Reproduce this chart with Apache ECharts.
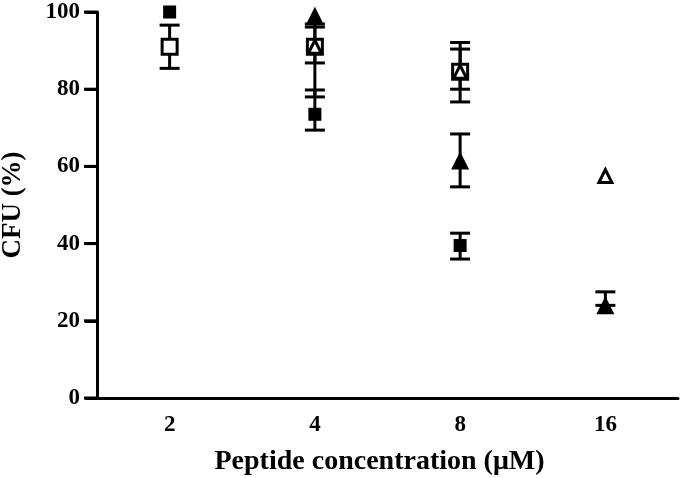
<!DOCTYPE html>
<html>
<head>
<meta charset="utf-8">
<script src="https://cdn.jsdelivr.net/npm/echarts@6/dist/echarts.min.js"></script>
<style>
  html, body { margin: 0; padding: 0; background: #fff; }
  #chart { width: 680px; height: 478px; }
</style>
</head>
<body>
<div id="chart"></div>
<script>
// concentrations (uM)
const categories = ['2', '4', '8', '16']
const yTicks = [0, 20, 40, 60, 80, 100]

// CFU % per peptide, null = not shown
const filledSquare = [100, 73.5, 39.5, null]
const openSquare = [91, 91, 84.5, null]
const filledTriangle = [null, 99, 61.5, 24]
const openTriangle = [null, 91, 84.5, 57.5]

// error bars [category index, low, high]
const filledSquareErr = [[1, 69.4, 79.8], [2, 36, 42.7]]
const openSquareErr = [[0, 85.4, 96.6], [1, 86.8, 96.9], [2, 76.7, 92.1]]
const filledTriangleErr = [[2, 54.7, 68.4], [3, 24, 27.5]]
const openTriangleErr = [[1, 78, 96.1], [2, 80, 90.4]]

const font = '"Liberation Serif", "Times New Roman", serif'

function errorSeries(data) {
  return {
    type: 'custom',
    data: data,
    z: 1,
    clip: false,
    renderItem: function (params, api) {
      const x = api.value(0)
      const lo = api.coord([x, api.value(1)])
      const hi = api.coord([x, api.value(2)])
      const w = 10
      const st = { stroke: '#000', lineWidth: 3 }
      return {
        type: 'group',
        children: [
          { type: 'line', shape: { x1: lo[0], y1: lo[1], x2: hi[0], y2: hi[1] }, style: st },
          { type: 'line', shape: { x1: lo[0] - w, y1: lo[1], x2: lo[0] + w, y2: lo[1] }, style: st },
          { type: 'line', shape: { x1: hi[0] - w, y1: hi[1], x2: hi[0] + w, y2: hi[1] }, style: st }
        ]
      }
    }
  }
}

// y-axis tick marks, left of the axis line
const yTickSeries = {
  type: 'custom',
  data: yTicks.map(v => [0, v]),
  z: 5,
  silent: true,
  clip: false,
  renderItem: function (params, api) {
    const p = api.coord([0, api.value(1)])
    const x0 = p[0] - api.size([1, 0])[0] / 2
    return {
      type: 'line',
      shape: { x1: x0 - 13, y1: p[1], x2: x0, y2: p[1] },
      style: { stroke: '#000', lineWidth: 3 }
    }
  }
}

function markers(values, symbol, size, filled) {
  return {
    type: 'scatter',
    data: values.map((v, i) => [i, v]),
    symbol: symbol,
    symbolSize: size,
    z: 3,
    itemStyle: filled
      ? { color: '#000', opacity: 1 }
      : { color: '#fff', borderColor: '#000', borderWidth: 3, opacity: 1 }
  }
}

const chart = echarts.init(document.getElementById('chart'))
chart.setOption({
  animation: false,
  backgroundColor: '#fff',
  grid: {
    left: 97, right: 2, top: 12, bottom: 80,
    outerBounds: { left: -100, top: -100, right: -100, bottom: -100 }
  },
  xAxis: {
    type: 'category',
    data: categories,
    boundaryGap: true,
    name: 'Peptide concentration (μM)',
    nameLocation: 'middle',
    nameGap: 50,
    nameTextStyle: { fontFamily: font, fontWeight: 'bold', fontSize: 28, color: '#000', padding: [0, 16, 0, 0] },
    axisLine: { lineStyle: { color: '#000', width: 3 } },
    axisTick: { alignWithLabel: true, length: 10, lineStyle: { color: '#000', width: 3 } },
    axisLabel: { margin: 16, fontFamily: font, fontWeight: 'bold', fontSize: 23, color: '#000' },
    splitLine: { show: false }
  },
  yAxis: {
    type: 'value',
    min: yTicks[0],
    max: yTicks[yTicks.length - 1],
    interval: 20,
    name: 'CFU (%)',
    nameLocation: 'middle',
    nameGap: 70,
    nameTextStyle: { fontFamily: font, fontWeight: 'bold', fontSize: 27, color: '#000' },
    axisLine: { show: true, lineStyle: { color: '#000', width: 3 } },
    axisTick: { show: true, length: 12, lineStyle: { color: '#000', width: 3 } },
    axisLabel: { margin: 5, padding: [0, 12, 0, 0], fontFamily: font, fontWeight: 'bold', fontSize: 23, color: '#000' },
    splitLine: { show: false }
  },
  series: [
    yTickSeries,
    errorSeries(filledSquareErr),
    errorSeries(openSquareErr),
    errorSeries(filledTriangleErr),
    errorSeries(openTriangleErr),
    markers(filledSquare, 'rect', 13, true),
    markers(openSquare, 'rect', 15, false),
    markers(filledTriangle, 'triangle', 18, true),
    markers(openTriangle, 'triangle', 13, false)
  ]
})
</script>
</body>
</html>
